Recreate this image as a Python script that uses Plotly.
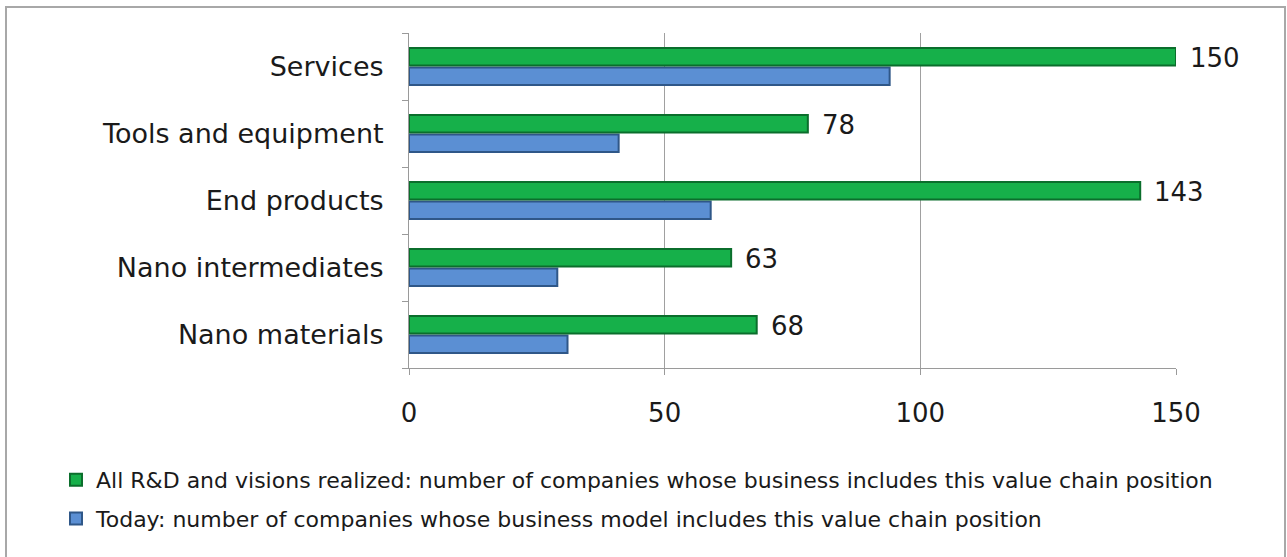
import plotly.graph_objects as go

categories = ["Nano materials", "Nano intermediates", "End products", "Tools and equipment", "Services"]
today_values = [31, 29, 59, 41, 94]
vision_values = [68, 63, 143, 78, 150]
x_ticks = [0, 50, 100, 150]

name_vision = "All R&D and visions realized: number of companies whose business includes this value chain position"
name_today = "Today: number of companies whose business model includes this value chain position"

FONT = "Verdana, DejaVu Sans, sans-serif"
TXT = "#1a1a1a"

fig = go.Figure()
fig.add_trace(go.Bar(
    y=categories, x=today_values, orientation="h", name=name_today,
    legendgroup="b", legendrank=2,
    marker=dict(color="#5b8fd3", line=dict(color="#2f5788", width=2)),
))
fig.add_trace(go.Bar(
    y=categories, x=vision_values, orientation="h", name=name_vision,
    legendgroup="a", legendrank=1,
    marker=dict(color="#16b04a", line=dict(color="#0b6e2c", width=2)),
))

for c, v in zip(categories, vision_values):
    fig.add_annotation(x=v, y=c, text=str(v), showarrow=False, xanchor="left",
                       xshift=12, yshift=9, font=dict(family=FONT, size=26, color=TXT))

L, R, T, B = 409, 1176, 33, 368
W, H = 1287, 557
pw, ph = R - L, B - T
fig.add_shape(type="rect", xref="paper", yref="paper",
              x0=(6 - L) / pw, x1=(1285 - L) / pw,
              y0=(B - 575) / ph, y1=(B - 7) / ph,
              line=dict(color="#a8a8a8", width=2), layer="below")

fig.update_layout(
    width=W, height=H,
    margin=dict(l=L, r=W - R, t=T, b=H - B, autoexpand=False),
    paper_bgcolor="white", plot_bgcolor="white",
    barmode="group", bargap=0.42, bargroupgap=0.1,
    font=dict(family=FONT, color=TXT),
    showlegend=True,
    legend=dict(
        xref="container", yref="container", x=56 / W, y=1 - 459 / H,
        xanchor="left", yanchor="top", traceorder="grouped",
        tracegroupgap=7, font=dict(family=FONT, size=22, color=TXT),
        itemwidth=30,
    ),
)
fig.update_xaxes(
    range=[0, 150], tickvals=x_ticks, showgrid=True, gridcolor="#a0a0a0", gridwidth=1,
    zeroline=False, showline=True, linecolor="#9a9a9a", linewidth=1,
    ticks="outside", ticklen=6, tickcolor="#9a9a9a", tickangle=0, automargin=False,
    tickfont=dict(family=FONT, size=26, color=TXT), ticklabelstandoff=16,
)
fig.update_yaxes(
    categoryorder="array", categoryarray=categories, automargin=False,
    showline=True, linecolor="#9a9a9a", linewidth=1, showgrid=False,
    ticks="outside", ticklen=6, tickcolor="#9a9a9a", tickson="boundaries",
    tickfont=dict(family=FONT, size=27, color=TXT), ticklabelstandoff=19,
)

fig.write_html("out.html")
